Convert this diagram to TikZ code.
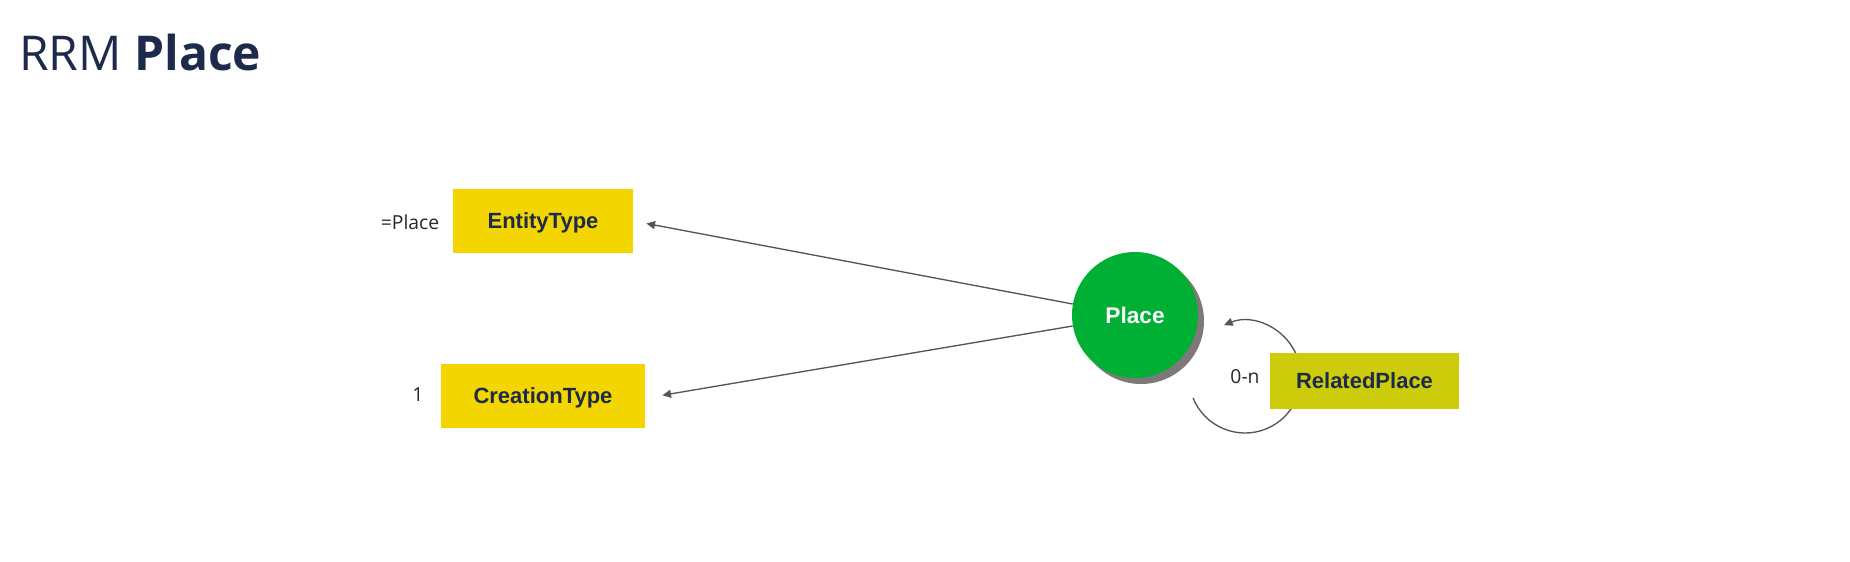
\documentclass[tikz,border=0pt]{standalone}
\usepackage{fontspec}
\setmainfont{Open Sans}
\newfontfamily\boxfont{Liberation Sans}
\usetikzlibrary{arrows.meta,shadows}
\definecolor{navy}{HTML}{1E2A4B}
\definecolor{boxyellow}{HTML}{F3D600}
\definecolor{olive}{HTML}{CCCC0A}
\definecolor{placegreen}{HTML}{00B034}
\definecolor{shadowgray}{HTML}{7F7878}
\definecolor{linegray}{HTML}{555555}
\tikzset{
  entitybox/.style={fill=boxyellow, minimum height=48pt, inner sep=0pt, text depth=0pt,
    text=navy, font=\boxfont\bfseries\fontsize{16.5}{18}\selectfont},
  card/.style={text=black!85, inner sep=0pt, font=\fontsize{14.5}{16}\selectfont},
  arr/.style={-{Triangle[length=6.5pt,width=6pt]}, draw=linegray, line width=1pt},
}
\begin{document}
\begin{tikzpicture}[x=0.75pt,y=-0.75pt]
  \useasboundingbox (0,0) rectangle (1850,561);
  \node[anchor=base west, inner sep=0pt, text=navy, font=\fontsize{36}{40}\selectfont]
    (title) at (19,70) {RRM \textbf{Place}};
  % left side
  \node[entitybox, minimum width=135pt] (entity) at (543,221) {EntityType};
  \node[entitybox, minimum width=153pt] (creation) at (543,395.5) {CreationType};
  \node[card] (entitycard) at (410,222) {=Place};
  \node[card] (creationcard) at (418,395) {1};
  % centre
  \node[circle, fill=placegreen, minimum size=94.5pt, inner sep=0pt, text=white, text depth=0pt,
    font=\boxfont\bfseries\fontsize{17}{18}\selectfont,
    drop shadow={shadow xshift=4.5pt, shadow yshift=-4.5pt, fill=shadowgray, opacity=1}]
    (place) at (1135,315) {Place};
  \draw[arr, shorten >=10pt] (place.170) -- (entity.east);
  \draw[arr, shorten >=13pt] (place.190) -- ([yshift=-2pt]creation.east);
  % self relation
  \node[card] (relcard) at (1245,377) {0-n};
  \draw[arr] (relcard) ++(158:56) arc[start angle=158, end angle=-112, radius=56];
  \node[entitybox, fill=olive, minimum width=141.75pt, minimum height=42pt] (related)
    at (1364.5,381) {RelatedPlace};
\end{tikzpicture}
\end{document}
